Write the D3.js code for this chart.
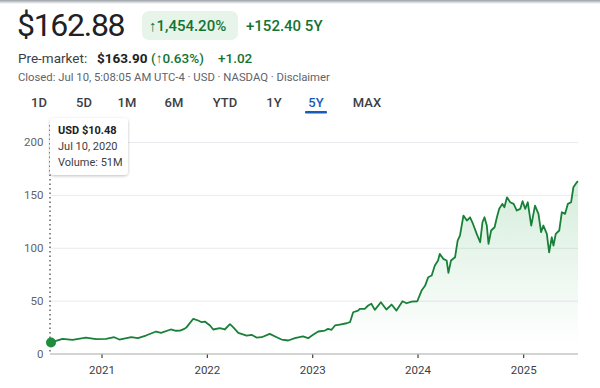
<!DOCTYPE html>
<html><head><meta charset="utf-8">
<script src="https://cdn.jsdelivr.net/npm/d3@7"></script>
<style>
html,body{margin:0;padding:0;background:#fff;}
svg{display:block;font-family:Roboto,Arial,sans-serif;}
</style></head><body>
<svg id="c" width="600" height="388"></svg>
<script>
const dates = ["2020-07-10","2020-08-19","2020-09-23","2020-10-28","2020-11-08","2020-12-13","2021-01-17","2021-02-14","2021-03-04","2021-04-14","2021-05-07","2021-06-04","2021-07-09","2021-07-26","2021-08-29","2021-09-16","2021-09-30","2021-10-15","2021-10-23","2021-11-15","2021-12-02","2021-12-14","2021-12-25","2022-01-12","2022-01-23","2022-02-15","2022-03-04","2022-03-22","2022-04-02","2022-04-20","2022-05-19","2022-06-05","2022-06-22","2022-07-10","2022-08-07","2022-08-31","2022-09-17","2022-10-10","2022-11-02","2022-11-30","2022-12-18","2023-01-04","2023-01-22","2023-02-14","2023-02-25","2023-03-09","2023-03-21","2023-04-07","2023-04-30","2023-05-12","2023-05-23","2023-06-09","2023-06-15","2023-07-02","2023-07-14","2023-07-25","2023-08-06","2023-08-27","2023-09-15","2023-10-03","2023-10-20","2023-11-10","2023-11-24","2023-12-11","2023-12-31","2024-01-15","2024-01-27","2024-02-07","2024-02-19","2024-03-01","2024-03-12","2024-03-18","2024-03-30","2024-04-11","2024-04-17","2024-04-26","2024-05-10","2024-05-19","2024-05-27","2024-06-08","2024-06-20","2024-07-01","2024-07-09","2024-07-24","2024-08-05","2024-08-13","2024-08-20","2024-08-28","2024-09-03","2024-09-12","2024-09-24","2024-10-02","2024-10-10","2024-10-21","2024-10-28","2024-11-06","2024-11-17","2024-11-29","2024-12-10","2024-12-22","2024-12-30","2025-01-08","2025-01-17","2025-01-29","2025-02-11","2025-02-23","2025-03-04","2025-03-12","2025-03-24","2025-04-01","2025-04-10","2025-04-16","2025-04-24","2025-05-06","2025-05-15","2025-05-26","2025-06-05","2025-06-16","2025-06-24","2025-07-06","2025-07-10"];
const prices = [10.48,13.9,12.9,14.5,15.1,13.5,13.9,15.4,13.2,15.4,14.5,17,20.8,19.6,22.7,21.5,21.7,23.3,24.9,32.8,31.2,29.6,30.2,26.5,22.7,23.9,22.7,27.7,24.9,19.6,17,17.7,15.1,15.4,18.6,15.4,13.2,12.3,14.5,16.1,14.5,17.7,20.8,21.7,23.3,22.4,26.5,27.4,28.6,29.6,39,40.6,42.2,42.2,45.4,47,41.3,48.5,41.6,46.3,40.6,49.4,47.5,49.1,49.4,59.5,64,72.1,73.7,83.2,87.9,94.2,89.5,87.9,76.3,87.9,91,106.8,111.5,130.4,125.7,128.8,124.1,113.1,105.2,124.1,128.8,121,103.7,116.3,119.4,128.8,136.8,141.5,138.3,147.7,143,141.5,135.2,136.8,144,136.8,143,121,139.9,132,114.7,121,113.1,95.7,109.9,102.1,113.1,116.3,133.6,132,141.5,143,157.2,161.9,162.88];
const yTicks = [0,50,100,150,200];
const tabs = ["1D","5D","1M","6M","YTD","1Y","5Y","MAX"];
const tabX = [39,84,127,174,225,274,316,367];
const activeTab = "5Y";
const tooltipLines = ["USD $10.48","Jul 10, 2020","Volume: 51M"];

const parse = d3.timeParse("%Y-%m-%d");
const data = dates.map((d,i)=>({date:parse(d), v:prices[i]}));
const svg = d3.select("#c");
const green = "#137333", lineGreen = "#188038";

// top shadow
const defs = svg.append("defs");
const sh = defs.append("linearGradient").attr("id","sh").attr("x1",0).attr("x2",0).attr("y1",0).attr("y2",1);
sh.append("stop").attr("offset","0%").attr("stop-color","#9aa0a6");
sh.append("stop").attr("offset","100%").attr("stop-color","#ffffff");
svg.append("rect").attr("x",0).attr("y",0).attr("width",600).attr("height",4).attr("fill","url(#sh)");

// header
svg.append("text").attr("x",17).attr("y",36).attr("font-size",32).attr("letter-spacing",-1.3).attr("fill","#202124").text("$162.88");
svg.append("rect").attr("x",142).attr("y",11).attr("width",96).attr("height",29).attr("rx",7).attr("fill","#e6f4ea");
svg.append("text").attr("x",149).attr("y",31).attr("font-size",15).attr("font-weight",500).attr("fill",green).text("↑1,454.20%");
svg.append("text").attr("x",246).attr("y",31).attr("font-size",15).attr("font-weight",500).attr("fill",green).text("+152.40 5Y");

const pm = svg.append("text").attr("y",63).attr("font-size",13.5).attr("fill","#3c4043");
pm.append("tspan").attr("x",18).text("Pre-market:");
pm.append("tspan").attr("x",97).attr("font-weight",700).attr("fill","#202124").text("$163.90");
pm.append("tspan").attr("x",151).attr("fill",green).attr("font-weight",500).text("(↑0.63%)");
pm.append("tspan").attr("x",218).attr("fill",green).attr("font-weight",500).text("+1.02");

svg.append("text").attr("x",18).attr("y",81).attr("font-size",11.3).attr("fill","#5f6368")
  .text("Closed: Jul 10, 5:08:05 AM UTC-4 · USD · NASDAQ · Disclaimer");

// tabs
tabs.forEach((t,i)=>{
  svg.append("text").attr("x",tabX[i]).attr("y",107).attr("text-anchor","middle").attr("font-size",13)
    .attr("font-weight",500).attr("fill", t===activeTab ? "#1a5ab8" : "#3c4043").text(t);
});
const ai = tabs.indexOf(activeTab);
svg.append("rect").attr("x",tabX[ai]-11).attr("y",111).attr("width",22).attr("height",2.5).attr("rx",1).attr("fill","#1a5ab8");

// scales
const x = d3.scaleTime().domain([parse("2020-07-10"), parse("2025-07-10")]).range([51,578]);
const y = d3.scaleLinear().domain([0,200]).range([353.5,142]);

// grid
const grid = svg.append("g").attr("transform","translate(50,0)")
  .call(d3.axisLeft(y).tickValues(yTicks.slice(1)).tickSize(-528).tickFormat(""));
grid.select(".domain").remove();
grid.selectAll("line").attr("stroke","#e8eaed");

// y labels
const ya = svg.append("g").attr("transform","translate(50,0)")
  .call(d3.axisLeft(y).tickValues(yTicks).tickSize(0).tickPadding(6.5));
ya.select(".domain").remove();
ya.selectAll("text").attr("font-family","Roboto,Arial,sans-serif").attr("font-size",11.5).attr("fill","#5f6368");

// area gradient
const ag = defs.append("linearGradient").attr("id","ag").attr("gradientUnits","userSpaceOnUse")
  .attr("x1",0).attr("x2",0).attr("y1",170).attr("y2",345);
ag.append("stop").attr("offset","0%").attr("stop-color","#34a853").attr("stop-opacity",0.22);
ag.append("stop").attr("offset","100%").attr("stop-color","#34a853").attr("stop-opacity",0);
svg.append("path").datum(data).attr("fill","url(#ag)")
  .attr("d", d3.area().x(d=>x(d.date)).y0(y(0)).y1(d=>y(d.v)).curve(d3.curveLinear));

// x axis
const xa = svg.append("g").attr("transform",`translate(0,${y(0)})`)
  .call(d3.axisBottom(x).ticks(d3.timeYear.every(1)).tickFormat(d3.timeFormat("%Y")).tickSize(4).tickPadding(8));
xa.select(".domain").attr("d",`M50,0.5H578`).attr("stroke","#c4c7c5").attr("stroke-width",1.5);
xa.selectAll(".tick line").attr("stroke","#3c4043").attr("y1",1).attr("y2",4.5).attr("stroke-width",1.2);
xa.selectAll("text").attr("font-family","Roboto,Arial,sans-serif").attr("font-size",11.5).attr("fill","#3c4043");

// crosshair
svg.append("line").attr("x1",50).attr("x2",50).attr("y1",125).attr("y2",y(0))
  .attr("stroke","#5f6368").attr("stroke-width",1.5).attr("stroke-dasharray","1.5,3");

// line
svg.append("path").datum(data).attr("fill","none").attr("stroke",lineGreen).attr("stroke-width",1.8)
  .attr("stroke-linejoin","round")
  .attr("d", d3.line().x(d=>x(d.date)).y(d=>y(d.v)));
svg.append("circle").attr("cx",x(data[0].date)).attr("cy",y(data[0].v)).attr("r",5).attr("fill","#1e8e3e");

// tooltip
const tf = defs.append("filter").attr("id","shadow").attr("x","-20%").attr("y","-20%").attr("width","140%").attr("height","150%");
tf.append("feDropShadow").attr("dx",0).attr("dy",1).attr("stdDeviation",1.5).attr("flood-color","#000").attr("flood-opacity",0.25);
svg.append("rect").attr("x",50).attr("y",118).attr("width",78).attr("height",57).attr("rx",4)
  .attr("fill","#fff").attr("filter","url(#shadow)");
tooltipLines.forEach((t,i)=>{
  svg.append("text").attr("x",58).attr("y",134+i*16).attr("font-size",11)
    .attr("font-weight", i===0 ? 700 : 400).attr("fill", i===0 ? "#202124" : "#3c4043").text(t);
});
</script></body></html>
